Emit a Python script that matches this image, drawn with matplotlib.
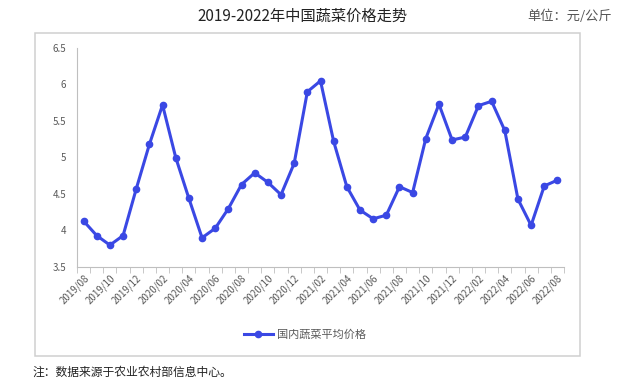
import matplotlib
matplotlib.use("Agg")
import matplotlib.pyplot as plt
from matplotlib.patches import Rectangle

plt.rcParams["font.family"] = ["Noto Sans CJK SC", "DejaVu Sans"]

months = [
    "2019/08", "2019/09", "2019/10", "2019/11", "2019/12",
    "2020/01", "2020/02", "2020/03", "2020/04", "2020/05", "2020/06",
    "2020/07", "2020/08", "2020/09", "2020/10", "2020/11", "2020/12",
    "2021/01", "2021/02", "2021/03", "2021/04", "2021/05", "2021/06",
    "2021/07", "2021/08", "2021/09", "2021/10", "2021/11", "2021/12",
    "2022/01", "2022/02", "2022/03", "2022/04", "2022/05", "2022/06",
    "2022/07", "2022/08",
]
prices = [
    4.13, 3.93, 3.80, 3.93, 4.57,
    5.18, 5.72, 5.00, 4.44, 3.90, 4.03,
    4.30, 4.63, 4.79, 4.66, 4.49, 4.92,
    5.90, 6.05, 5.22, 4.60, 4.28, 4.16,
    4.21, 4.60, 4.52, 5.26, 5.73, 5.24,
    5.28, 5.71, 5.77, 5.37, 4.43, 4.07,
    4.61, 4.69,
]
yticks = [3.5, 4, 4.5, 5, 5.5, 6, 6.5]
ytick_labels = ["3.5", "4", "4.5", "5", "5.5", "6", "6.5"]

BLUE = "#3a48e4"
GRAY = "#595959"
AXIS = "#bfbfbf"

fig = plt.figure(figsize=(6.2, 3.86), dpi=100)

# light frame around the chart area
frame = Rectangle((35 / 620, 1 - 356 / 386), 545 / 620, 323 / 386,
                  transform=fig.transFigure, fill=False,
                  edgecolor="#cfcfcf", lw=1.1, zorder=0)
fig.patches.append(frame)
frame.set_figure(fig)

ax = fig.add_axes([77 / 620, 1 - 267 / 386, 487 / 620, 219 / 386])
ax.patch.set_alpha(0)
x = list(range(len(months)))
ax.plot(x, prices, color=BLUE, lw=2.2, marker="o", ms=4.5,
        label="国内蔬菜平均价格")

ax.set_xlim(-0.5, len(months) - 0.5)
ax.set_ylim(3.5, 6.5)
ax.set_yticks(yticks)
ax.set_yticklabels(ytick_labels)
ax.tick_params(axis="y", length=0, labelsize=7, colors=GRAY, pad=8)

ax.set_xticks(x[::2])
ax.set_xticklabels(months[::2], rotation=45, ha="right", va="top",
                   rotation_mode="anchor")
ax.set_xticks([i - 0.5 for i in range(len(months) + 1)], minor=True)
ax.tick_params(axis="x", which="major", length=0, labelsize=7, colors=GRAY, pad=4)
ax.tick_params(axis="x", which="minor", length=4, color=AXIS, direction="out")

for side in ["top", "right"]:
    ax.spines[side].set_visible(False)
ax.spines["left"].set_color(AXIS)
ax.spines["bottom"].set_color(AXIS)

leg = fig.legend(loc="center", bbox_to_anchor=(305 / 620, 1 - 335 / 386),
                 frameon=False, fontsize=8, handlelength=2.6, handletextpad=0.4)
for t in leg.get_texts():
    t.set_color(GRAY)

fig.text(303 / 620, 1 - 16 / 386, "2019-2022年中国蔬菜价格走势", ha="center",
         va="center", fontsize=11, color="#222222")
fig.text(612 / 620, 1 - 16 / 386, "单位：元/公斤", ha="right", va="center",
         fontsize=9.5, color="#555555")
fig.text(32 / 620, 1 - 372 / 386, "注：数据来源于农业农村部信息中心。", ha="left",
         va="center", fontsize=8.5, color="#222222")

fig.savefig("out.png", dpi=100)
